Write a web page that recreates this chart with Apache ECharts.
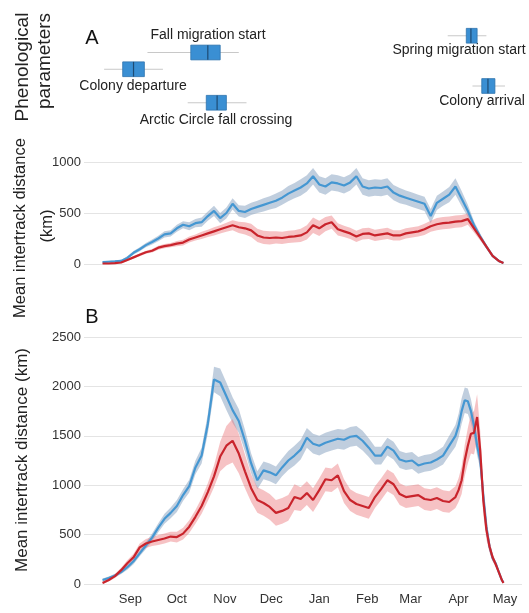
<!DOCTYPE html>
<html><head><meta charset="utf-8">
<script src="https://cdn.jsdelivr.net/npm/echarts@6/dist/echarts.min.js"></script>
<style>html,body{margin:0;padding:0;background:#fff}#c{width:529px;height:613px}</style>
</head><body><div id="c"></div>
<script>
// Month tick positions (days since 1 Sep) and labels
const monthDays = [0, 30, 61, 91, 122, 153, 181, 212, 242];
const monthLabels = ['Sep', 'Oct', 'Nov', 'Dec', 'Jan', 'Feb', 'Mar', 'Apr', 'May'];

// Phenological parameters (days since 1 Sep): min, q1, median, q3, max; row
const phenNames = ['Spring migration start', 'Fall migration start', 'Colony departure', 'Colony arrival', 'Arctic Circle fall crossing'];
const phenRows = [1, 2, 3, 4, 5];
const phenMin = [205, 11, -17, 221, 37];
const phenQ1 = [217, 39, -5, 227, 49];
const phenMed = [220, 50, 2, 231, 56];
const phenQ3 = [224, 58, 9, 235.5, 62];
const phenMax = [230, 70, 21, 242, 75];

// Panel A
const daysA = [-18,-14,-10,-6,-2,2,6,10,14,18,22,26,30,34,38,42,46,50,54,58,62,66,70,74,78,82,86,90,94,98,102,106,110,114,118,122,126,130,134,138,142,146,150,154,158,162,166,170,174,178,182,186,190,194,198,202,206,210,214,218,222,226,230,234,238,241];
const blueA = [18,22,25,30,60,110,145,185,215,250,290,300,350,385,370,400,410,470,520,450,500,590,520,510,540,560,580,600,620,650,690,720,750,790,860,780,760,800,790,770,800,860,760,740,750,745,760,700,670,650,630,610,590,470,600,640,680,760,640,520,380,270,170,80,30,10];
const blueAband = [10,10,10,12,15,18,20,22,25,28,30,30,35,35,40,40,45,45,50,50,55,55,55,60,60,60,65,65,70,70,75,75,80,80,80,80,80,80,80,80,80,80,80,80,80,80,80,75,75,70,70,70,70,70,70,70,75,80,75,60,40,30,20,15,10,5];
const redA = [5,5,8,15,40,65,90,115,130,160,175,185,200,210,240,260,280,300,320,340,360,380,360,350,330,280,260,255,260,255,265,270,280,310,380,350,390,410,340,320,300,270,295,300,280,290,300,280,280,300,310,320,340,370,390,400,405,415,420,440,350,260,170,80,30,10];
const redAband = [5,5,5,8,10,12,15,15,18,20,20,22,25,28,30,30,35,35,40,40,45,50,55,60,65,65,65,65,60,60,60,60,65,70,75,75,70,65,60,55,55,55,55,55,55,55,55,50,50,50,50,50,55,55,60,60,60,60,60,55,40,30,20,15,10,5];

// Panel B
const daysB = [-18,-14,-10,-6,-2,2,6,10,14,18,22,26,30,34,38,42,46,50,54,58,62,66,70,74,78,82,86,90,94,98,102,106,110,114,118,122,126,130,134,138,142,146,150,154,158,162,166,170,174,178,182,186,190,194,198,202,206,210,212,214,216,218,220,222,224,226,228,230,232,234,236,238,240,241];
const blueB = [40,60,85,120,170,230,310,390,470,570,660,720,790,900,990,1180,1300,1620,2070,2040,1900,1760,1650,1450,1220,1050,1150,1130,1100,1180,1250,1300,1360,1480,1420,1400,1430,1450,1470,1460,1490,1500,1450,1380,1300,1300,1390,1350,1260,1240,1250,1200,1220,1230,1260,1300,1400,1500,1600,1750,1860,1850,1750,1600,1400,1250,900,580,380,260,210,120,40,15];
const blueBband = [15,15,20,20,25,30,30,35,40,45,50,55,60,60,65,70,80,100,130,140,140,130,120,110,100,90,90,90,90,90,95,100,100,100,100,100,100,100,100,100,100,100,100,95,90,90,90,90,85,85,85,85,85,85,85,90,100,110,120,130,130,130,120,110,100,80,60,40,30,25,20,15,10,5];
const redB = [10,40,80,140,210,270,370,410,430,445,460,480,475,510,580,680,790,930,1090,1290,1400,1450,1320,1140,970,850,820,780,720,740,770,880,860,920,850,950,1060,1050,1100,940,850,810,790,770,880,960,1050,1010,910,880,890,900,860,850,870,840,830,880,950,1050,1250,1400,1520,1530,1690,1350,850,550,380,270,200,120,40,10];
const redBband = [10,15,20,25,30,35,40,45,45,50,50,50,55,60,65,70,80,90,110,150,200,220,200,170,140,130,130,130,130,130,130,130,120,120,120,120,120,120,120,120,110,110,110,110,110,110,110,110,110,110,110,110,110,110,110,110,110,110,120,140,160,180,200,220,230,200,150,100,60,40,30,20,10,5];

const BLUE = '#4597d2', BLUE_BAND = 'rgba(140,165,195,0.55)';
const RED = '#c9242c', RED_BAND = 'rgba(235,120,125,0.45)';

function band(axis, days, vals, se, color) {
  return {
    type: 'custom', xAxisIndex: axis, yAxisIndex: axis, silent: true,
    data: days.map((d, i) => [d, vals[i] - se[i], vals[i] + se[i]]),
    encode: { x: 0, y: [1, 2] },
    renderItem: function (params, api) {
      if (params.dataIndex !== 0) return null;
      const up = [], lo = [];
      for (let i = 0; i < days.length; i++) {
        up.push(api.coord([days[i], vals[i] + se[i]]));
        lo.push(api.coord([days[i], Math.max(0, vals[i] - se[i])]));
      }
      return { type: 'polygon', shape: { points: up.concat(lo.reverse()) }, style: { fill: color } };
    }
  };
}
function line(axis, days, vals, color) {
  return { type: 'line', xAxisIndex: axis, yAxisIndex: axis, symbol: 'none',
    lineStyle: { color: color, width: 2.2 }, data: days.map((d, i) => [d, vals[i]]) };
}

const chart = echarts.init(document.getElementById('c'), null, { renderer: 'canvas' });
const FONT = 'Liberation Sans, Arial, Helvetica, sans-serif';
const xBase = { type: 'value', min: -30, max: 253, splitLine: { show: false }, axisLine: { show: false }, axisTick: { show: false } };
const yBase = { type: 'value', min: 0, axisLine: { show: false }, axisTick: { show: false },
  splitLine: { lineStyle: { color: '#e4e4e4', width: 1 } },
  axisLabel: { color: '#333', fontSize: 13, margin: 3, fontFamily: FONT, formatter: v => String(v) } };

const option = {
  animation: false,
  backgroundColor: '#fff',
  grid: [
    { left: 84, right: 7, top: 19, height: 100.5 },
    { left: 84, right: 7, top: 162, height: 102 },
    { left: 84, right: 7, top: 337, height: 247 }
  ],
  xAxis: [
    Object.assign({ gridIndex: 0, show: false }, xBase),
    Object.assign({ gridIndex: 1, axisLabel: { show: false } }, xBase),
    Object.assign({ gridIndex: 2, axisLabel: { color: '#333', fontSize: 13, margin: 9, fontFamily: FONT,
      customValues: monthDays, formatter: v => monthLabels[monthDays.indexOf(v)] || '' } }, xBase)
  ],
  yAxis: [
    { gridIndex: 0, type: 'value', min: 0, max: 6, inverse: true, show: false },
    Object.assign({ gridIndex: 1, max: 1000, interval: 500 }, yBase),
    Object.assign({ gridIndex: 2, max: 2500, interval: 500 }, yBase)
  ],
  series: [
    {
      type: 'custom', xAxisIndex: 0, yAxisIndex: 0,
      data: phenRows.map((r, i) => [phenMin[i], phenQ1[i], phenMed[i], phenQ3[i], phenMax[i], r]),
      encode: { x: [0, 1, 2, 3, 4], y: 5 },
      renderItem: function (params, api) {
        const r = api.value(5);
        const pMin = api.coord([api.value(0), r]);
        const pQ1 = api.coord([api.value(1), r]);
        const pMed = api.coord([api.value(2), r]);
        const pQ3 = api.coord([api.value(3), r]);
        const pMax = api.coord([api.value(4), r]);
        const h = Math.abs(api.size([0, 1])[1]) * 0.44;
        return { type: 'group', children: [
          { type: 'line', shape: { x1: pMin[0], y1: pMin[1], x2: pMax[0], y2: pMax[1] }, style: { stroke: '#c8c8c8', lineWidth: 1 } },
          { type: 'rect', shape: { x: pQ1[0], y: pQ1[1] - h, width: pQ3[0] - pQ1[0], height: 2 * h }, style: { fill: '#3a8fd3', stroke: '#2f73ad', lineWidth: 0.8 } },
          { type: 'line', shape: { x1: pMed[0], y1: pMed[1] - h, x2: pMed[0], y2: pMed[1] + h }, style: { stroke: '#1e4b73', lineWidth: 1.2 } }
        ] };
      }
    },
    band(1, daysA, blueA, blueAband, BLUE_BAND),
    line(1, daysA, blueA, BLUE),
    band(1, daysA, redA, redAband, RED_BAND),
    line(1, daysA, redA, RED),
    band(2, daysB, blueB, blueBband, BLUE_BAND),
    line(2, daysB, blueB, BLUE),
    band(2, daysB, redB, redBband, RED_BAND),
    line(2, daysB, redB, RED)
  ],
  graphic: [
    { type: 'text', x: 23, y: 67, rotation: Math.PI / 2, style: { text: 'Phenological', font: '19px ' + FONT, fill: '#222', textAlign: 'center', textVerticalAlign: 'middle' } },
    { type: 'text', x: 45, y: 61, rotation: Math.PI / 2, style: { text: 'parameters', font: '19px ' + FONT, fill: '#222', textAlign: 'center', textVerticalAlign: 'middle' } },
    { type: 'text', x: 20, y: 228, rotation: Math.PI / 2, style: { text: 'Mean intertrack distance', font: '16.5px ' + FONT, fill: '#222', textAlign: 'center', textVerticalAlign: 'middle' } },
    { type: 'text', x: 47, y: 226, rotation: Math.PI / 2, style: { text: '(km)', font: '16.5px ' + FONT, fill: '#222', textAlign: 'center', textVerticalAlign: 'middle' } },
    { type: 'text', x: 22, y: 460, rotation: Math.PI / 2, style: { text: 'Mean intertrack distance (km)', font: '17px ' + FONT, fill: '#222', textAlign: 'center', textVerticalAlign: 'middle' } },
    { type: 'text', x: 92, y: 38, style: { text: 'A', font: '20px ' + FONT, fill: '#111', textAlign: 'center', textVerticalAlign: 'middle' } },
    { type: 'text', x: 92, y: 317, style: { text: 'B', font: '20px ' + FONT, fill: '#111', textAlign: 'center', textVerticalAlign: 'middle' } },
    { type: 'text', x: 208, y: 35, style: { text: phenNames[1], font: '14px ' + FONT, fill: '#222', textAlign: 'center', textVerticalAlign: 'middle' } },
    { type: 'text', x: 133, y: 86, style: { text: phenNames[2], font: '14px ' + FONT, fill: '#222', textAlign: 'center', textVerticalAlign: 'middle' } },
    { type: 'text', x: 216, y: 120, style: { text: phenNames[4], font: '14px ' + FONT, fill: '#222', textAlign: 'center', textVerticalAlign: 'middle' } },
    { type: 'text', x: 459, y: 50, style: { text: phenNames[0], font: '14px ' + FONT, fill: '#222', textAlign: 'center', textVerticalAlign: 'middle' } },
    { type: 'text', x: 482, y: 101, style: { text: phenNames[3], font: '14px ' + FONT, fill: '#222', textAlign: 'center', textVerticalAlign: 'middle' } }
  ]
};
chart.setOption(option);
</script>
</body></html>
